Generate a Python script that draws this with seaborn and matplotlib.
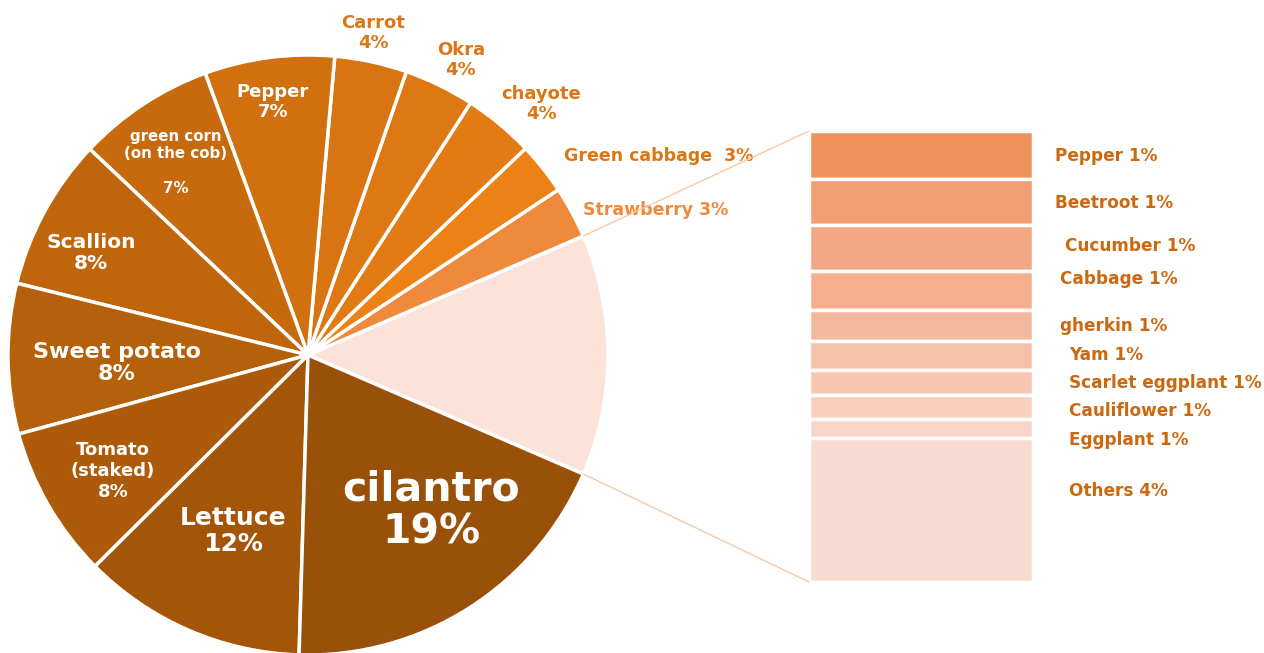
import math
import matplotlib
matplotlib.use("Agg")
import matplotlib.pyplot as plt
from matplotlib.patches import ConnectionPatch
import seaborn as sns

sns.set_theme(style="white")
plt.rcParams["font.family"] = ["DejaVu Sans"]

# Share of planted area per crop (%), counter-clockwise from the grouped slice
crops = ["Others", "Strawberry", "Green cabbage", "chayote", "Okra", "Carrot",
         "Pepper", "green corn\n(on the cob)\n", "Scallion", "Sweet potato",
         "Tomato\n(staked)", "Lettuce", "cilantro"]
shares = [13.0, 2.8, 2.8, 3.8, 3.8, 3.9, 7.0, 7.4, 8.2, 8.1, 8.2, 12.1, 19.0]

# Breakdown of the grouped slice (%)
minor_crops = ["Pepper", "Beetroot", "Cucumber", "Cabbage", "gherkin", "Yam",
               "Scarlet eggplant", "Cauliflower", "Eggplant", "Others"]
minor_shares = [1.37, 1.33, 1.33, 1.14, 0.89, 0.82, 0.73, 0.69, 0.56, 4.14]

pie_colors = ["#fce2d9", "#ef8a3d", "#ec8216", "#e27b13", "#dd7812", "#d87411",
              "#d0700f", "#c7690d", "#bf650c", "#b5600b", "#ad5b0a", "#a35608",
              "#995009"]
bar_colors = ["#f0935a", "#f19e72", "#f3a784", "#f4b08e", "#f4b89d", "#f6c0a9",
              "#f7c7b3", "#f8cfbd", "#f8d5c7", "#f8dbd0"]

W, H = 1264, 653
fig = plt.figure(figsize=(W / 100, H / 100), dpi=100)
fig.patch.set_facecolor("white")

# ---- pie ----
ax_pie = fig.add_axes([8 / W, -2 / H, 600 / W, 600 / H])
start = -shares[0] / sum(shares) * 360 / 2
wedges, _ = ax_pie.pie(shares, colors=pie_colors, startangle=start,
                       counterclock=True, radius=1,
                       wedgeprops=dict(edgecolor="white", linewidth=2.5))
ax_pie.set_xlim(-1, 1)
ax_pie.set_ylim(-1, 1)
ax_pie.axis("off")

WHITE = "white"
ORANGE = "#dc7614"
# (x, y, fontsize, color, ha, single_line, linespacing) per slice label, pie units
label_layout = {
    "Strawberry": (0.917, 0.483, 12.5, "#ef8a3d", "left", True, 1.0),
    "Green cabbage": (0.853, 0.663, 12.5, ORANGE, "left", True, 1.0),
    "chayote": (0.777, 0.837, 13, ORANGE, "center", False, 1.15),
    "Okra": (0.51, 0.983, 13, ORANGE, "center", False, 1.15),
    "Carrot": (0.217, 1.073, 13, ORANGE, "center", False, 1.15),
    "Pepper": (-0.117, 0.843, 13, WHITE, "center", False, 1.15),
    "green corn\n(on the cob)\n": (-0.44, 0.643, 10.8, WHITE, "center", False, 1.2),
    "Scallion": (-0.723, 0.34, 14.5, WHITE, "center", False, 1.15),
    "Sweet potato": (-0.637, -0.027, 16, WHITE, "center", False, 1.12),
    "Tomato\n(staked)": (-0.65, -0.387, 13, WHITE, "center", False, 1.2),
    "Lettuce": (-0.25, -0.587, 18, WHITE, "center", False, 1.12),
    "cilantro": (0.41, -0.52, 29.5, WHITE, "center", False, 1.12),
}
for name, val in zip(crops, shares):
    if name not in label_layout:
        continue
    x, y, fs, col, ha, single, ls = label_layout[name]
    sep = "  " if name == "Green cabbage" else (" " if single else "\n")
    ax_pie.text(x, y, f"{name}{sep}{val:.0f}%", ha=ha, va="center",
                multialignment="center", fontsize=fs, color=col,
                fontweight="bold", linespacing=ls)

# ---- stacked bar for the grouped slice ----
ax_bar = fig.add_axes([809 / W, (H - 582) / H, 224 / W, 451 / H])
bottom = 0.0
for name, val, col in zip(minor_crops, minor_shares, bar_colors):
    ax_bar.bar(0, val, bottom=bottom, width=1, color=col,
               edgecolor="white", linewidth=2.5)
    bottom += val
ax_bar.set_xlim(-0.5, 0.5)
ax_bar.set_ylim(sum(minor_shares), 0)
ax_bar.axis("off")

# label pixel anchors (left edge x, centre y)
bar_label_pos = [(1055, 156), (1055, 203), (1065, 246), (1060, 279), (1060, 326),
                 (1069, 355), (1069, 383), (1069, 411), (1069, 440), (1069, 491)]
for (name, val), (px, py) in zip(zip(minor_crops, minor_shares), bar_label_pos):
    fig.text(px / W, 1 - py / H, f"{name} {val:.0f}%", ha="left", va="center",
             fontsize=12.2, color="#cc6810", fontweight="bold")

# connector lines from the grouped slice to the bar
t1, t2 = wedges[0].theta1, wedges[0].theta2
for theta, yb in [(t2, 0), (t1, sum(minor_shares))]:
    r = math.radians(theta)
    con = ConnectionPatch(xyA=(math.cos(r), math.sin(r)), coordsA=ax_pie.transData,
                          xyB=(-0.5, yb), coordsB=ax_bar.transData,
                          color="#f8c9a2", linewidth=1)
    fig.add_artist(con)

fig.savefig("out.png", dpi=100, facecolor="white")
